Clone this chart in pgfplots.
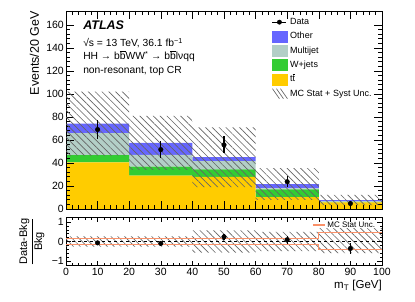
\documentclass[border=0pt]{standalone}
\usepackage{fontspec}
\setmainfont{Liberation Sans}
\usepackage{pgfplots}
\pgfplotsset{compat=1.18}
\usetikzlibrary{patterns.meta}
\definecolor{cOther}{RGB}{102,102,255}
\definecolor{cMJ}{RGB}{179,207,199}
\definecolor{cW}{RGB}{51,204,51}
\definecolor{cTT}{RGB}{255,204,0}
\definecolor{cHatch}{RGB}{100,100,100}
\definecolor{cStat}{RGB}{250,145,105}
\tikzset{hatch/.style={pattern={Lines[angle=-45,distance=4.8pt,line width=0.65pt]}, pattern color=cHatch}}
\newcommand\tickfont{\fontsize{10.5}{12}\selectfont}
\begin{document}
\begin{tikzpicture}
\path[use as bounding box] (0,0) rectangle (415pt,302pt);
\pgfplotsset{common/.style={scale only axis, width=316pt, xmin=0, xmax=100, anchor=south west,
  axis line style={line width=0.8pt}, tick style={black, line width=0.6pt},
  /pgf/number format/assume math mode=true,
  xticklabel style={font=\tickfont, inner ysep=2pt},
  yticklabel style={font=\tickfont, inner xsep=2pt}}}

% stacked backgrounds
\begin{axis}[common, at={(66pt,93pt)}, height=198pt, ymin=0, ymax=172, hide axis, ybar stacked, bar width=20]
\addplot[fill=cTT, draw=none] coordinates {(10,40.6) (30,29.0) (50,27.8) (70,10.4) (90,5.7)};
\addplot[fill=cW, draw=none] coordinates {(10,6.1) (30,7.8) (50,6.7) (70,6.7) (90,0.3)};
\addplot[fill=cMJ, draw=none] coordinates {(10,19.1) (30,10.2) (50,7.0) (70,0.9) (90,0.8)};
\addplot[fill=cOther, draw=none] coordinates {(10,8.4) (30,10.4) (50,3.5) (70,3.7) (90,1.0)};
\end{axis}

% main frame, uncertainty band, data
\begin{axis}[common, at={(66pt,93pt)}, height=198pt, ymin=0, ymax=172,
  xtick={0,10,...,100}, xticklabels={}, minor x tick num=4,
  ytick={0,20,...,160}, minor y tick num=4,
  major tick length=8pt, minor tick length=4pt,
  ylabel={Events/20 GeV},
  ylabel style={at={(axis description cs:-0.085,1)}, anchor=south east, inner sep=0pt, font=\fontsize{12.5}{14}\selectfont},
  legend cell align=left,
  legend style={at={(axis description cs:0.651,0.975)}, anchor=north west, draw=none, fill=none,
    font=\fontsize{9}{10}\selectfont, inner sep=0pt, row sep=2.3pt,
    nodes={text height=7pt, text depth=2pt, inner ysep=1.5pt, inner xsep=2.5pt}},
]
\addplot[hatch, draw=none, const plot, forget plot] coordinates {(0,102) (20,80.9) (40,71) (60,35.4) (80,12.2) (100,12.2) (100,3.4) (80,8) (60,19) (40,33.9) (20,46.4) (0,46.4)};
\addplot[black, only marks, mark=*, mark size=2.3pt, forget plot,
  error bars/.cd, y dir=both, y explicit, error mark=none, error bar style={line width=1.1pt}]
  coordinates {(10,69) +- (0,8.2) (30,51.6) +- (0,7.3) (50,55.7) +- (0,7.4) (70,23.7) +- (0,4.8) (90,4.8) +- (0,2.2)};
\addlegendimage{legend image code/.code={\draw[black, line width=1pt] (0pt,0pt) -- (14pt,0pt); \fill[black] (7pt,0pt) circle (2.2pt);}}
\addlegendentry{Data}
\addlegendimage{legend image code/.code={\fill[cOther] (0pt,-5.5pt) rectangle (15pt,5.5pt);}}
\addlegendentry{Other}
\addlegendimage{legend image code/.code={\fill[cMJ] (0pt,-5.5pt) rectangle (15pt,5.5pt);}}
\addlegendentry{Multijet}
\addlegendimage{legend image code/.code={\fill[cW] (0pt,-5.5pt) rectangle (15pt,5.5pt);}}
\addlegendentry{W+jets}
\addlegendimage{legend image code/.code={\fill[cTT] (0pt,-5.5pt) rectangle (15pt,5.5pt);}}
\addlegendentry{t$\overline{\mbox{t}}$}
\addlegendimage{legend image code/.code={\draw[cHatch, line width=0.65pt] (0pt,5pt) -- (7pt,-5pt) (4pt,5pt) -- (11pt,-5pt) (8pt,5pt) -- (15pt,-5pt);}}
\addlegendentry{MC Stat + Syst Unc.}
\node[anchor=base west, inner sep=0pt, font=\fontsize{12.5}{14}\selectfont\bfseries\itshape] at (axis description cs:0.054,0.907) {ATLAS};
\node[anchor=base west, inner sep=0pt, font=\fontsize{10.3}{12}\selectfont] at (axis description cs:0.054,0.82) {√s = 13 TeV, 36.1 fb\textsuperscript{−1}};
\node[anchor=base west, inner sep=0pt, font=\fontsize{10.3}{12}\selectfont] at (axis description cs:0.054,0.753) {HH → b$\overline{\mbox{b}}$WW\textsuperscript{*} → b$\overline{\mbox{b}}$lνqq};
\node[anchor=base west, inner sep=0pt, font=\fontsize{10.3}{12}\selectfont] at (axis description cs:0.054,0.682) {non-resonant, top CR};
\end{axis}

% ratio panel
\begin{axis}[common, at={(66pt,36.3pt)}, height=48.4pt, ymin=-1.25, ymax=1.25,
  xtick={0,10,...,100}, minor x tick num=4,
  ytick={-1,0,1}, yticklabels={−1,0,1}, minor y tick num=4,
  major tick length=5pt, minor tick length=2.5pt,
  xlabel={m\textsubscript{T} [GeV]},
  xlabel style={at={(axis description cs:1,-0.29)}, anchor=north east, inner sep=0pt, font=\fontsize{11.5}{13}\selectfont},
  ylabel={$\displaystyle\frac{\mbox{Data-Bkg}}{\mbox{Bkg}}$},
  ylabel style={at={(axis description cs:-0.1085,0.5)}, anchor=center, inner sep=0pt, font=\fontsize{11}{13}\selectfont},
  legend style={at={(axis description cs:0.985,0.84)}, anchor=east, draw=none, fill=none,
    font=\fontsize{8}{9}\selectfont, inner sep=0pt, nodes={inner xsep=2pt}},
]
\addplot[hatch, draw=none, const plot, forget plot] coordinates {(0,0.27) (20,0.27) (40,0.57) (60,0.5) (80,0.69) (100,0.69) (100,-0.6) (80,-0.5) (60,-0.57) (40,-0.27) (20,-0.27) (0,-0.27)};
\addplot[cStat, line width=1.3pt, const plot, forget plot] coordinates {(0,0.17) (20,0.17) (40,0.15) (60,0.17) (80,0.45) (100,0.45)};
\addplot[cStat, line width=1.3pt, const plot, forget plot] coordinates {(0,-0.17) (20,-0.17) (40,-0.16) (60,-0.17) (80,-0.41) (100,-0.41)};
\addplot[black, dashed, line width=0.8pt, forget plot] coordinates {(0,0) (100,0)};
\addplot[black, only marks, mark=*, mark size=2.3pt, forget plot,
  error bars/.cd, y dir=both, y explicit, error mark=none, error bar style={line width=1.1pt}]
  coordinates {(10,-0.07) +- (0,0.11) (30,-0.10) +- (0,0.13) (50,0.24) +- (0,0.17) (70,0.09) +- (0,0.2) (90,-0.36) +- (0,0.26)};
\addlegendimage{legend image code/.code={\draw[cStat, line width=1.3pt] (0pt,0pt) -- (12pt,0pt);}}
\addlegendentry{MC Stat Unc.}
\end{axis}
\end{tikzpicture}
\end{document}
